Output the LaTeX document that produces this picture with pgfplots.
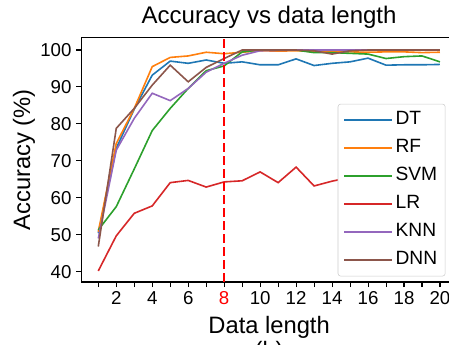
\documentclass[border=0pt]{standalone}
\usepackage{pgfplots}
\usepackage{pgfplotstable}
\pgfplotsset{compat=1.18}
\usepackage{fontspec}
\setmainfont{Liberation Sans}
\definecolor{cDT}{HTML}{1F77B4}
\definecolor{cRF}{HTML}{FF7F0E}
\definecolor{cSVM}{HTML}{2CA02C}
\definecolor{cLR}{HTML}{D62728}
\definecolor{cKNN}{HTML}{9467BD}
\definecolor{cDNN}{HTML}{8C564B}
\pgfplotstableread{
x DT RF SVM LR KNN DNN
1 50.4 50.8 51.3 40.2 49.0 46.8
2 73.4 74.7 57.6 49.7 72.9 78.8
3 84.0 84.2 67.8 55.8 81.5 84.2
4 93.2 95.5 78.2 57.8 88.3 90.5
5 97.0 98.0 84.2 64.1 86.3 95.9
6 96.4 98.4 89.6 64.7 89.6 91.4
7 97.3 99.4 94.4 62.9 94.0 95.3
8 96.4 99.0 95.7 64.3 96.4 97.7
9 96.8 99.4 99.5 64.6 98.6 100
10 96.0 99.8 100 67.0 99.8 100
11 96.0 99.7 100 64.1 99.9 100
12 97.6 99.8 100 68.3 100 100
13 95.8 99.6 99.3 63.2 100 99.8
14 96.4 99.5 99.3 64.5 100 98.9
15 96.8 99.5 99.1 65.5 100 99.8
16 97.8 99.4 98.9 66.0 100 100
17 95.9 99.5 97.7 65.2 100 100
18 96.0 99.5 98.2 66.5 100 100
19 96.0 99.3 98.4 65.8 100 100
20 96.1 99.4 96.8 66.2 100 100
}\datatable
\begin{document}
\begin{tikzpicture}
\useasboundingbox (0,0) rectangle (336.75pt,-258.75pt);
\clip (0,0) rectangle (336.75pt,-258.75pt);
\begin{axis}[
  at={(60.9pt,-211.5pt)}, anchor=south west,
  scale only axis, width=281.9pt, height=183.4pt,
  xmin=0.05, xmax=20.95, ymin=37.2, ymax=103.4,
  clip=false,
  xtick={1,...,20},
  xticklabels={,2,,4,,6,,\textcolor{red}{8},,10,,12,,14,,16,,18,,20},
  ytick={40,50,...,100},
  tick pos=left, tick align=outside,
  major tick length=3.75pt,
  every tick/.style={black, line width=0.8pt},
  axis line style={line width=0.9pt},
  /pgf/number format/assume math mode=true,
  ticklabel style={font=\fontsize{14}{16}\selectfont},
  label style={font=\fontsize{17.8}{21}\selectfont},
  xlabel={Data length},
  xlabel style={at={(axis description cs:0.5,0)}, anchor=base, yshift=-38.25pt},
  ylabel={Accuracy (\%)},
  ylabel style={at={(axis description cs:-0.152,0.5)}, anchor=center},
  legend style={at={(axis description cs:0.6825,0.023)}, anchor=south west,
    draw=black!20, rounded corners=2pt, fill=white,
    font=\fontsize{14.4}{17}\selectfont,
    inner xsep=4pt, inner ysep=2.5pt, row sep=2pt,
    nodes={text height=11pt, text depth=4pt, inner sep=2pt}},
  legend cell align=left,
  legend image code/.code={\draw[#1] (0pt,0pt) -- (29.25pt,0pt); \path (0pt,0pt) -- (36pt,0pt);},
  every axis plot/.append style={line width=1.2pt},
]
\addplot[cDT] table[x=x,y=DT]{\datatable};
\addlegendentry{DT}
\addplot[cRF] table[x=x,y=RF]{\datatable};
\addlegendentry{RF}
\addplot[cSVM] table[x=x,y=SVM]{\datatable};
\addlegendentry{SVM}
\addplot[cLR] table[x=x,y=LR]{\datatable};
\addlegendentry{LR}
\addplot[cKNN] table[x=x,y=KNN]{\datatable};
\addlegendentry{KNN}
\addplot[cDNN] table[x=x,y=DNN]{\datatable};
\addlegendentry{DNN}
\addplot[red, line width=1.5pt, dash pattern=on 6.75pt off 3pt, forget plot] coordinates {(8,37.2) (8,103.4)};
\node[font=\fontsize{18}{21}\selectfont, anchor=base] at ([yshift=10.6pt]axis description cs:0.5,1) {Accuracy vs data length};
\node[font=\fontsize{17.8}{21}\selectfont, anchor=base] at ([yshift=-57pt]axis description cs:0.5,0) {(b)};
\end{axis}
\end{tikzpicture}
\end{document}
